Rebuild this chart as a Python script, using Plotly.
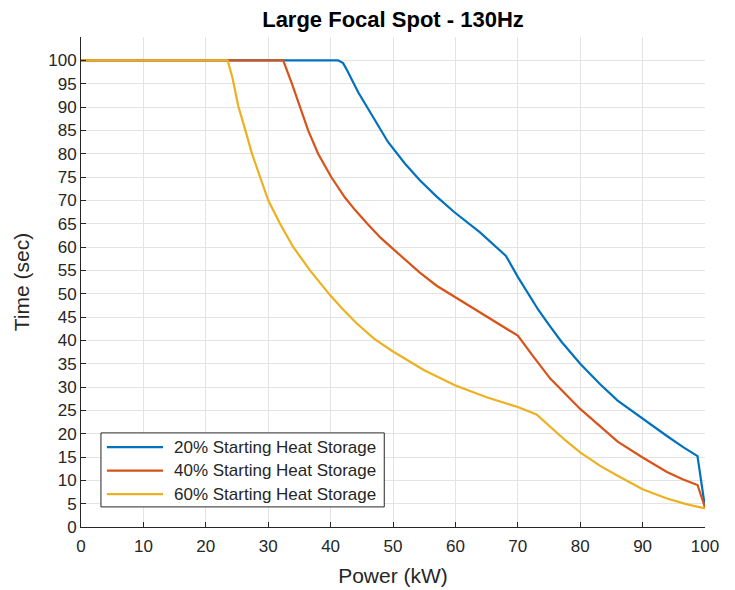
import plotly.graph_objects as go

# Data
power_20 = [0, 41.2, 42, 42.6, 44.4, 46.6, 49.2, 51.9, 54.3, 57, 59.8, 63.9, 66.3, 68.1, 70, 71.7, 73.3, 75, 77, 80, 83.2, 86, 90, 93.9, 96.5, 98.8, 100]
time_20 = [100, 100, 99.4, 98.0, 93.2, 88.2, 82.5, 77.9, 74.3, 70.8, 67.5, 63.2, 60.3, 58.1, 53.6, 50.0, 46.5, 43.3, 39.7, 35.0, 30.6, 27.1, 23.2, 19.5, 17.1, 15.2, 4.2]

power_40 = [0, 32.4, 33.8, 35.1, 36.4, 38, 40.1, 42.3, 44, 46, 48, 50, 54.3, 57, 60, 65, 70, 72.5, 75.2, 80, 83.2, 86, 90, 93.9, 96.5, 98.8, 100]
time_40 = [100, 100, 95, 90, 85, 80, 75, 70.6, 67.8, 64.8, 62.0, 59.6, 54.5, 51.7, 49.2, 45, 41, 36.5, 31.8, 25.3, 21.5, 18.3, 14.9, 11.8, 10.2, 9.0, 4.2]

power_60 = [0, 23.5, 24.3, 25.2, 26.3, 27.4, 28.7, 30, 31.9, 34, 36.7, 39.9, 42, 44.2, 47, 50, 55, 60, 65, 70, 73, 75.2, 77.6, 80, 83.2, 86, 90, 93.9, 97, 100]
time_60 = [100, 100, 96.1, 90.2, 85.2, 80, 75, 70, 65, 60, 55, 49.7, 46.6, 43.6, 40.3, 37.6, 33.6, 30.3, 27.8, 25.7, 24.1, 21.5, 18.6, 16.0, 13.1, 11.0, 8.1, 6.1, 4.9, 4.0]

series_names = ["20% Starting Heat Storage", "40% Starting Heat Storage", "60% Starting Heat Storage"]
x_ticks = list(range(0, 101, 10))
y_ticks = list(range(0, 101, 5))

colors = ["#0072BD", "#D95319", "#EDB120"]
font_family = "Liberation Sans, Arial, sans-serif"
text_color = "#262626"

fig = go.Figure()
for xs, ys, name, c in zip([power_20, power_40, power_60], [time_20, time_40, time_60], series_names, colors):
    fig.add_trace(go.Scatter(x=xs, y=ys, mode="lines", name=name,
                             line=dict(color=c, width=2.2), showlegend=False))

axis_common = dict(
    showgrid=True, gridcolor="#e3e3e3", gridwidth=1,
    showline=True, linecolor=text_color, linewidth=1,
    ticks="inside", ticklen=5, tickcolor=text_color,
    tickfont=dict(family=font_family, size=17, color=text_color),
    zeroline=False, mirror=False, automargin=False,
)

# Legend box drawn in plot-area (paper) coordinates, MATLAB style
box = dict(x0=0.032, x1=0.486, y0=0.041, y1=0.192)
row_y = [0.163, 0.115, 0.067]
line_x = (0.0415, 0.1315)
text_x = 0.146

fig.add_shape(type="rect", xref="paper", yref="paper", **box,
              line=dict(color=text_color, width=1), fillcolor="white", layer="above")
for name, c, ry in zip(series_names, colors, row_y):
    fig.add_shape(type="line", xref="paper", yref="paper", x0=line_x[0], x1=line_x[1], y0=ry, y1=ry,
                  line=dict(color=c, width=2.2), layer="above")
    fig.add_annotation(xref="paper", yref="paper", x=text_x, y=ry, text=name, showarrow=False,
                       xanchor="left", yanchor="middle",
                       font=dict(family=font_family, size=17, color=text_color))

fig.update_layout(
    width=735, height=590,
    margin=dict(l=81, r=30, t=37, b=63),
    paper_bgcolor="white", plot_bgcolor="white",
    title=dict(text="<b>Large Focal Spot - 130Hz</b>", x=(81 + 705) / 2 / 735, xanchor="center",
               y=1 - 19 / 590, yanchor="middle",
               font=dict(family=font_family, size=22, color="black")),
    xaxis=dict(range=[0, 100], tickvals=x_ticks, ticklabelstandoff=4,
               title=dict(text="Power (kW)", font=dict(family=font_family, size=21, color=text_color), standoff=12),
               **axis_common),
    yaxis=dict(range=[0, 105], tickvals=y_ticks,
               title=dict(text="Time (sec)", font=dict(family=font_family, size=21, color=text_color), standoff=12),
               **axis_common),
    showlegend=False,
)

fig.write_html("out.html")
